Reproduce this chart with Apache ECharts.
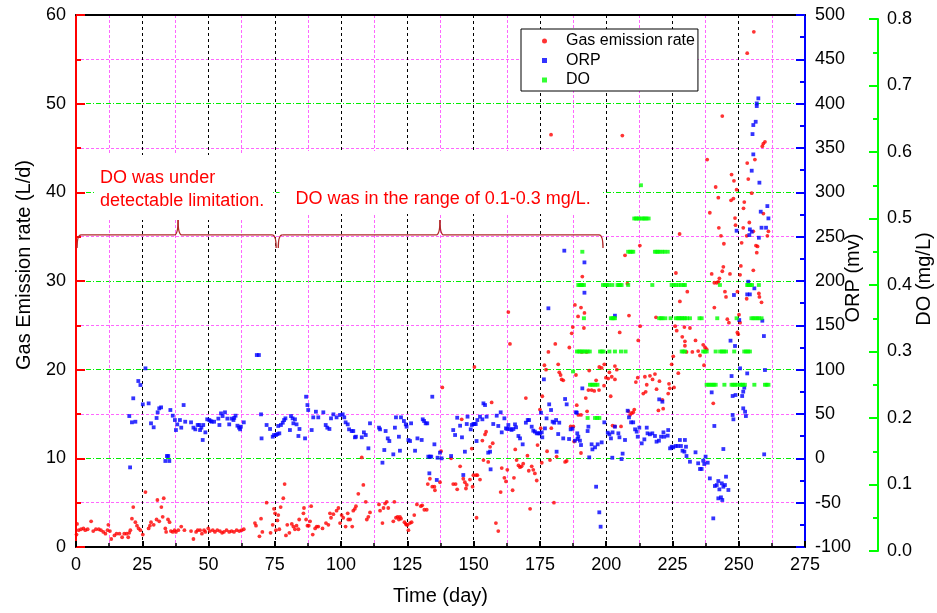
<!DOCTYPE html>
<html><head><meta charset="utf-8">
<script src="https://cdn.jsdelivr.net/npm/echarts@6/dist/echarts.min.js"></script>
<style>html,body{margin:0;padding:0;background:#fff}#c{width:937px;height:613px}</style>
</head><body><div id="c"></div>
<script>
// ---------- data ----------
const seriesNames = ['Gas emission rate', 'ORP', 'DO'];
const xTitle = 'Time (day)';
const yTitles = ['Gas Emission rate (L/d)', 'ORP (mv)', 'DO (mg/L)'];
const notes = ['DO was under\ndetectable limitation.', 'DO was in the range of 0.1-0.3 mg/L.'];

// Gas emission rate [day, L/d]
const gasRate = [
[0.2,1.4],[0.4,2.6],[1.0,1.9],[1.9,2.0],[2.8,2.1],[3.5,1.9],[4.4,2.0],[5.7,2.9],[6.5,1.8],[7.5,2.0],[8.6,2.0],[9.4,1.9],[10.3,1.7],[11.1,1.5],[11.9,1.9],[12.2,2.5],[12.8,1.8],[13.3,0.9],[14.5,1.3],[15.3,1.5],[16.4,1.5],[17.4,1.1],[18.2,1.5],[19.1,1.5],[19.7,1.1],[20.1,1.6],[20.5,1.9],[21.1,3.2],[21.6,4.5],[22.4,2.8],[23.0,2.4],[23.6,2.1],[24.3,1.9],[25.2,1.4],[26.2,6.2],[27.4,2.1],[27.9,2.4],[28.3,2.8],[29.3,2.5],[30.4,3.1],[30.7,5.3],[31.4,2.9],[32.2,4.5],[32.7,3.4],[33.1,5.5],[33.7,2.1],[34.0,1.7],[34.7,3.1],[35.3,2.8],[35.8,1.8],[36.5,1.7],[37.2,1.9],[37.7,1.7],[38.6,1.9],[39.7,2.3],[40.9,1.9],[43.4,1.8],[44.3,0.9],[45.3,1.7],[45.9,1.9],[46.8,1.9],[47.5,1.5],[48.3,1.9],[48.8,1.7],
[49.9,2.1],[50.5,1.8],[51.6,1.9],[52.4,1.7],[53.3,1.9],[54.3,1.8],[55.1,1.6],[55.8,1.7],[56.8,1.9],[57.8,1.7],[58.7,1.8],[59.6,1.7],[60.6,1.9],[61.6,1.8],[62.5,1.9],[63.3,2.0],
[67.5,2.7],[67.9,2.4],[69.2,1.2],[69.8,3.2],[70.3,1.7],[71.9,5.0],[73.4,1.6],[74.2,2.5],[74.7,4.3],[75.1,3.8],[75.4,1.9],[76.0,3.0],[76.3,3.6],[76.7,2.0],[77.2,4.5],[78.2,5.5],[78.7,7.1],[79.2,1.3],[79.7,2.5],[80.5,1.6],[81.4,2.6],[82.0,2.3],[82.6,2.0],[83.2,2.4],[83.9,2.0],[84.2,3.1],[85.8,3.8],[86.0,4.4],[86.8,3.1],[87.3,2.4],[87.8,2.4],[88.3,2.9],[88.7,4.6],[89.3,1.4],[90.2,2.1],[90.8,2.3],[91.4,2.3],[93.0,2.1],[94.3,2.7],[95.2,2.5],[95.8,3.8],[96.2,3.3],[97.1,3.7],[98.3,4.1],[99.0,4.4],[99.6,2.7],[100.2,3.6],[100.8,3.3],[101.7,2.3],[102.5,3.8],[102.7,3.1],[103.4,3.1],[104.2,2.3],[104.6,4.1],[105.2,4.3],[105.6,4.6],[106.5,6.0],[107.8,10.1],[108.4,7.0],[109.3,5.1],[109.7,3.1],[110.3,3.4],[110.9,3.9],[114.3,4.8],[114.7,4.1],[115.6,2.7],[116.0,4.4],[116.6,4.9],[117.2,5.1],[117.8,4.4],[119.7,2.9],[120.1,5.1],[120.7,3.3],[121.3,3.4],[121.8,3.1],[122.2,3.4],[122.6,3.2],[123.9,2.8],[124.4,2.6],[124.7,2.5],[125.1,2.5],[125.4,1.9],[126.0,2.7],[126.6,2.8],[127.6,3.6],[128.6,4.8],[130.1,4.6],[130.6,4.7],[131.4,4.2],[132.3,4.2],[132.7,7.1],[133.5,7.7],[134.4,6.8],[135.2,6.8],[135.4,6.4],[137.3,7.3],[137.7,10.8],[138.2,18.0],[141.5,10.0],[142.3,7.1],
[143.2,7.1],[143.8,6.5],[144.9,9.1],[145.5,14.4],[146.1,7.7],[146.7,7.3],[147.4,7.0],[147.1,6.6],[148.6,7.6],[149.3,11.1],[149.6,6.8],[149.9,8.1],[150.9,8.1],[151.4,8.1],[151.1,3.3],[150.3,20.3],[152.4,7.6],[153.3,12.0],[153.7,9.8],[154.3,12.7],[154.7,13.0],[155.5,9.6],[156.2,11.3],[156.8,16.3],[157.2,11.7],[158.4,2.7],[159.3,1.8],[160.2,6.2],[160.6,8.9],[161.6,7.8],[162.2,7.4],[162.7,8.7],[163.1,26.5],[163.7,22.9],[164.7,6.4],[165.2,7.8],[165.7,11.0],[166.2,9.8],[166.9,9.2],[167.5,9.0],[168.1,9.1],[168.7,9.4],[169.7,16.8],[170.3,10.3],[170.8,8.6],[171.3,4.3],[171.9,9.1],[172.5,8.7],[173.1,8.3],[173.8,7.5],[174.1,11.5],[175.0,15.5],[175.3,13.4],[175.7,9.5],[175.9,17.0],[176.7,20.5],[177.3,20.0],[177.7,10.8],[178.2,22.0],[178.8,9.8],[179.2,46.5],[179.3,13.4],[180.3,5.0],[180.8,22.9],[181.3,10.2],[181.9,20.6],[182.3,19.7],[182.8,19.4],[183.2,18.9],[183.8,18.8],[184.5,9.6],[185.1,9.7],[186.1,22.5],[186.6,13.6],[187.0,24.1],[187.4,24.8],[187.6,13.6],[187.9,11.9],[188.2,27.3],[189.4,26.0],[190.5,27.0],[190.5,10.6],[191.0,30.5],[191.8,26.4],[191.6,24.7],[188.6,19.4],[188.9,16.0],[189.5,14.9],[190.5,14.9],[190.8,22.0],[192.6,22.0],[192.3,16.8],[192.8,15.3],[193.3,17.7],[193.6,19.9],[194.5,17.7],[195.5,17.6],[196.2,18.8],[197.3,17.7],[197.4,20.3],[198.3,20.2],[199.2,18.2],[199.3,20.6],[199.9,19.1],[200.8,19.0],[201.2,19.7],[201.7,17.0],[202.1,19.2],[202.4,13.7],[203.3,20.4],[203.3,18.9],[203.3,13.6],[204.0,20.0],[205.1,24.2],[205.6,13.6],[206.1,46.4],[207.1,32.9],[208.0,29.7],[208.6,26.1],[208.4,15.3],[209.0,14.9],[209.6,15.1],[210.2,15.2],[210.6,15.5],[211.2,18.6],[211.9,19.1],[212.1,23.3],[212.7,34.0],[212.8,24.9],[214.0,17.3],[214.6,19.2],[214.9,17.5],[215.3,18.3],[216.5,19.3],[217.5,18.9],[218.4,19.5],[218.8,25.9],[219.0,17.8],[219.7,15.4],[220.1,18.7],[221.2,16.6],[221.5,15.6],[223.4,17.3],[223.7,18.4],[224.0,17.9],[224.7,20.6],[225.3,21.5],[225.6,18.0],[226.0,24.9],[226.3,30.9],[226.6,24.4],[227.2,19.6],[227.7,35.3],[227.8,27.7],[228.7,23.7],[229.5,24.8],[229.7,22.7],[230.3,22.0],
[229.7,23.2],[230.6,28.8],[231.6,24.7],[232.5,22.0],[233.7,23.3],[234.7,22.1],[235.4,21.6],[236.6,22.8],[236.9,20.5],[237.3,22.5],[237.9,22.3],[238.1,43.7],[239.1,37.7],[239.8,30.8],[240.4,16.2],[240.8,29.8],[240.8,27.0],[241.3,40.6],[241.7,29.8],[242.3,39.4],[242.3,29.9],[242.5,36.0],[242.7,30.3],[243.3,35.1],[243.8,48.6],[243.8,31.1],[244.2,31.6],[244.4,34.2],[244.8,28.8],[245.2,28.2],[245.7,25.7],[246.3,25.3],[246.7,30.8],[247.1,39.1],[247.3,42.0],[248.0,39.3],[248.2,41.3],[248.6,37.1],[248.8,36.3],[249.2,40.3],[249.5,28.8],[249.5,24.2],[249.8,24.0],[250.1,26.2],[250.5,30.7],[250.5,25.3],[250.8,31.7],[251.1,34.3],[251.7,36.0],[251.8,38.2],[252.1,38.9],[253.0,35.1],[253.0,28.0],[253.2,43.3],[253.2,55.7],[253.6,41.5],[254.0,36.6],[254.9,39.9],[255.5,35.6],[255.5,31.2],[255.7,58.1],[256.1,43.7],[256.5,34.0],[256.8,33.2],[257.1,33.9],[257.6,28.6],[257.8,28.2],[258.6,27.6],[258.9,45.2],[259.3,45.5],[259.3,37.6],[259.9,45.7],[260.8,35.1],[261.2,35.6]
];

// ORP [day, mV]
const orp = [
[20.4,-10.2],[20.1,47.7],[21.1,40.6],[22.4,41.3],[21.6,67.7],[23.5,87.2],[24.3,82.7],[25.2,60.9],[26.2,101.5],[27.4,62.0],[28.3,39.5],[29.3,35.0],[30.4,45.5],[30.8,51.9],[31.4,56.4],[32.1,57.5],[33.7,-3.0],[34.3,2.6],[34.8,2.6],[35.2,-3.0],[35.6,54.5],[36.5,48.1],[37.3,43.2],[37.7,31.9],[38.2,38.3],[39.2,43.2],[39.7,34.6],[40.6,60.1],[41.2,41.3],[43.4,40.6],[44.3,34.6],[45.0,32.7],[45.9,37.6],[46.5,37.6],[46.8,31.9],[47.3,34.6],[47.8,20.7],[48.0,37.6],[48.8,29.3],
[49.5,44.0],[50.3,43.2],[50.8,42.0],[51.2,41.3],[52.1,41.3],[53.7,44.8],[54.1,37.6],[54.7,50.7],[55.3,47.7],[56.2,51.9],[57.1,44.8],[57.8,38.3],[58.7,44.8],[59.4,43.2],[59.7,45.6],[60.2,48.1],[60.9,36.8],[61.5,34.6],[61.9,32.7],[62.2,35.7],[63.3,40.6],
[68.2,116.5],[69.0,116.5],[69.8,49.6],[70.0,22.5],[71.9,37.6],[73.2,33.1],[74.2,24.4],[74.7,26.3],[75.4,26.3],[76.0,27.4],[76.7,28.2],[76.3,36.5],[77.3,37.6],[78.0,40.2],[78.5,43.2],[79.0,45.1],[80.7,31.9],[81.1,47.7],[81.7,45.1],[82.0,39.5],[82.6,44.0],[83.2,38.3],[83.9,25.2],[84.3,33.1],[86.4,22.5],[86.8,69.5],[87.3,60.1],[87.6,54.5],[88.9,31.9],[89.5,46.2],[90.5,52.6],[91.4,46.2],[93.3,51.9],[94.2,37.6],[94.8,34.6],[95.6,33.1],
[96.2,45.1],[97.1,49.6],[98.3,46.2],[99.6,48.9],[100.6,49.6],[101.2,46.2],[101.7,40.6],[102.5,38.3],[103.0,32.7],[104.0,30.8],[104.6,30.8],[105.2,23.7],[105.6,24.4],[107.8,23.7],[108.6,29.3],[109.3,26.3],[110.3,11.3],[110.9,39.5],[114.3,34.6],[114.7,32.7],[115.6,-4.9],[116.3,9.4],[116.8,30.8],[117.6,22.5],[118.2,19.5],[119.7,4.5],[120.3,34.6],[120.7,46.2],[121.8,24.4],[122.2,8.6],[122.6,46.2],[123.7,42.1],[124.4,38.3],[124.7,35.7],[125.4,20.7],[126.0,19.5],[126.4,39.5],[127.9,8.6],[128.8,22.5],[130.4,20.7],[130.8,44.0],[131.3,42.1],[131.9,39.5],[132.5,39.5],[132.9,1.9],[133.5,1.9],[134.0,1.9],[133.3,-16.9],[134.4,69.5],[135.2,15.8],[136.1,-24.4],[136.4,0.7],[137.3,6.4],[137.9,0.0],[141.5,2.6],[142.3,31.9],[143.0,26.3],
[143.8,45.8],[144.9,36.8],[145.6,23.7],[146.1,-18.8],[146.7,7.5],[147.4,38.7],[147.7,47.0],[148.9,32.7],[149.3,37.6],[149.9,38.7],[150.3,38.7],[150.8,38.7],[151.1,19.5],[151.4,43.2],[152.4,47.0],[153.3,44.0],[153.7,62.0],[154.3,60.1],[154.9,47.0],[155.5,6.4],[156.2,7.5],[156.4,-12.4],[157.4,38.7],[158.7,48.1],[159.3,36.5],[160.2,51.9],[160.6,29.3],[161.6,45.1],[162.2,33.8],[162.7,33.1],[163.1,37.6],[163.7,33.1],[164.3,32.0],[165.0,33.1],[165.6,38.3],[166.0,35.0],[166.9,25.2],[167.5,22.5],[168.5,15.8],[169.7,40.2],[170.4,43.2],[170.9,43.2],[171.9,35.7],[172.5,31.2],[173.1,30.1],[173.8,28.2],[174.4,28.2],[175.0,28.2],[175.7,29.3],[175.4,51.5],[175.9,23.7],[176.5,89.1],[176.9,33.8],[177.5,45.1],[178.2,169.2],[178.5,60.9],[179.2,54.5],[179.8,41.3],[180.4,40.2],[181.1,43.2],[181.3,7.5],[181.9,27.4],[182.3,40.2],[183.8,22.5],[184.2,234.2],[184.5,66.9],[185.1,60.9],[186.0,21.8],[186.6,32.7],[187.3,33.5],[188.2,19.9],[188.9,51.5],[189.2,21.8],[189.5,24.4],
[191.8,221.0],[191.8,186.8],[203.3,160.9],[188.6,51.9],[191.0,78.9],[193.3,35.7],[193.0,30.8],[190.1,19.9],[190.5,15.0],[189.1,28.2],[193.6,1.1],[194.5,15.8],[194.8,10.1],[195.8,12.4],[196.8,15.8],[198.3,18.0],[199.3,40.6],[196.2,-32.0],[197.4,-60.9],[197.9,-77.1],[200.6,28.9],[201.2,27.1],[201.8,22.5],[202.4,29.3],[203.3,35.7],[204.6,28.2],[205.0,23.7],[206.2,5.3],[205.8,-0.8],[207.1,20.7],[202.3,0.7],[208.1,53.7],[208.6,46.2],[209.4,40.6],[210.2,40.6],[210.9,32.7],[211.5,30.1],[211.9,24.4],[212.5,34.6],[213.4,16.9],[214.4,21.4],[215.3,34.6],[215.6,28.2],[216.5,27.1],[217.4,28.2],[218.4,25.2],[219.0,18.8],[219.9,19.9],[220.7,24.4],[221.6,29.3],[220.0,66.5],[221.2,63.9],[221.9,24.4],[223.4,31.9],[223.2,25.6],[224.1,11.3],[224.7,13.1],[225.3,12.4],[226.2,13.9],[227.0,13.9],[227.8,20.7],[228.2,13.9],[228.8,8.6],[229.5,7.5],[230.3,2.6],
[229.7,20.7],[230.1,13.1],[231.6,-3.8],[233.7,6.8],[234.7,-5.6],[235.4,-12.0],[236.0,-12.0],[236.6,-2.6],[237.0,-6.4],[237.5,1.9],[238.3,-4.9],[239.1,-22.6],[239.8,74.4],[240.4,-67.7],[240.8,36.5],[241.0,-31.2],[241.7,-30.1],[242.3,-25.6],[242.3,-45.1],[242.7,-35.0],[243.3,-44.0],[243.6,-28.2],[243.8,-47.0],[244.2,-32.0],[244.2,10.5],[244.8,-30.1],[245.2,-20.7],[246.1,-35.7],[246.9,132.7],[247.3,92.8],[247.7,70.3],[247.7,48.9],[248.0,44.0],[248.2,184.2],[248.6,126.7],[248.8,71.4],[249.2,256.7],[250.2,156.0],[250.5,101.5],[251.3,70.3],[251.7,75.2],[251.7,56.4],[252.1,79.7],[252.4,52.6],[252.7,47.7],[253.2,95.8],[253.2,184.9],[253.6,199.2],[254.0,251.8],[254.2,184.9],[254.2,258.2],[254.9,255.6],[254.9,324.4],[255.2,365.7],[255.5,342.8],[255.5,375.9],[255.9,191.7],[256.4,379.6],[256.8,397.3],[256.8,400.3],[257.4,406.0],[257.6,248.8],[257.8,310.9],[258.3,278.2],[258.6,260.1],[258.9,155.2],[259.5,137.9],[259.6,4.5],[259.9,99.6],[260.3,260.1],[260.8,284.5],[261.2,270.6]
];

// DO [day, mg/L]
const dissolvedOxygen = [
[213.1,0.55],
[210.6,0.50],[211.2,0.50],[211.8,0.50],[212.4,0.50],[213.4,0.50],[214.0,0.50],[214.6,0.50],[215.2,0.50],[216.0,0.50],
[191.0,0.45],[208.3,0.45],[209.0,0.45],[209.6,0.45],[210.2,0.45],[218.4,0.45],[219.0,0.45],[219.6,0.45],[220.2,0.45],[221.2,0.45],[222.0,0.45],[223.2,0.45],
[189.5,0.40],[190.0,0.40],[190.5,0.40],[191.0,0.40],[191.6,0.40],[198.8,0.40],[199.5,0.40],[200.2,0.40],[201.0,0.40],[202.3,0.40],[204.3,0.40],[204.8,0.40],[205.3,0.40],[205.8,0.40],[208.3,0.40],[217.4,0.40],[224.7,0.40],[225.5,0.40],[226.3,0.40],[227.3,0.40],[228.2,0.40],[229.2,0.40],[229.7,0.40],[242.9,0.40],[253.2,0.40],[253.6,0.40],[254.0,0.40],[254.4,0.40],[255.0,0.40],[257.6,0.40],
[191.6,0.35],[201.8,0.35],[202.3,0.35],[202.8,0.35],[203.3,0.35],[220.0,0.35],[220.7,0.35],[221.2,0.35],[222.3,0.35],[224.3,0.35],[226.3,0.35],[227.0,0.35],[227.5,0.35],[228.0,0.35],[228.6,0.35],[229.2,0.35],[229.7,0.35],[230.5,0.35],[231.6,0.35],[235.2,0.35],[236.0,0.35],[241.9,0.35],[249.2,0.35],[254.8,0.35],[255.5,0.35],[256.2,0.35],[257.0,0.35],[257.6,0.35],[258.6,0.35],
[189.0,0.30],[189.6,0.30],[190.2,0.30],[190.8,0.30],[191.5,0.30],[192.2,0.30],[193.0,0.30],[193.8,0.30],[197.7,0.30],[198.3,0.30],[199.0,0.30],[201.2,0.30],[203.3,0.30],[205.6,0.30],[207.3,0.30],[228.5,0.30],[229.1,0.30],[229.7,0.30],[236.6,0.30],[237.2,0.30],[237.9,0.30],[241.3,0.30],[243.0,0.30],[243.7,0.30],[244.4,0.30],[245.2,0.30],[248.3,0.30],[252.1,0.30],[252.8,0.30],[253.5,0.30],[254.2,0.30],
[187.5,0.27],
[193.9,0.25],[194.5,0.25],[195.2,0.25],[195.9,0.25],[196.7,0.25],[237.9,0.25],[238.6,0.25],[239.3,0.25],[240.0,0.25],[240.6,0.25],[241.3,0.25],[244.6,0.25],[247.3,0.25],[247.9,0.25],[248.6,0.25],[249.3,0.25],[250.5,0.25],[251.0,0.25],[251.6,0.25],[252.3,0.25],[255.9,0.25],[259.9,0.25],[260.5,0.25],[261.2,0.25],
[193.0,0.20],[195.8,0.20],[196.6,0.20],[197.4,0.20]
];

// annotation braces: [startDay, endDay, tipDay] at level (L/d)
const braces = [[0.4, 75.5, 38.5], [76.3, 198.8, 137.3]];
const braceLevel = 35.2;

// ---------- chart ----------
const FONT = 'Arial, "Liberation Sans", Helvetica, sans-serif';
const chart = echarts.init(document.getElementById('c'), null, {renderer: 'canvas'});
const lbl = {color: '#000', fontSize: 18, fontFamily: FONT};
const option = {
  animation: false,
  backgroundColor: '#fff',
  grid: [
    {left: 76, right: 132, top: 15, bottom: 66, outerBoundsMode: 'none', containLabel: false},
    {left: 76, right: 132, top: 19, bottom: 62, outerBoundsMode: 'none', containLabel: false}
  ],
  legend: {
    orient: 'vertical', left: 521, top: 29,
    backgroundColor: '#fff', borderColor: '#000', borderWidth: 1, borderRadius: 0,
    padding: [4, 3, 3, 21], itemGap: 3.5, itemWidth: 5, itemHeight: 5,
    textStyle: {fontSize: 16, fontFamily: FONT, color: '#000', lineHeight: 16, padding: [0, 0, 0, 14]},
    data: seriesNames, selectedMode: false
  },
  xAxis: [
    {gridIndex: 0, type: 'value', min: 0, max: 275, interval: 25, position: 'bottom',
     axisLine: {show: true, onZero: false, lineStyle: {color: '#000', width: 2}},
     axisTick: {show: true, inside: true, length: 6, lineStyle: {color: '#000', width: 2}},
     minorTick: {show: true, splitNumber: 2, length: 4, lineStyle: {color: '#000', width: 1.5}},
     axisLabel: Object.assign({margin: 9}, lbl),
     splitLine: {show: true, showMinLine: false, showMaxLine: false, lineStyle: {color: '#000', type: [3, 3], width: 1}},
     minorSplitLine: {show: true, lineStyle: {color: '#ff66ff', type: [3, 2], width: 1}},
     name: xTitle, nameLocation: 'middle', nameGap: 39,
     nameTextStyle: {fontSize: 20, color: '#000', fontFamily: FONT}},
    {gridIndex: 0, type: 'value', min: 0, max: 275, position: 'top',
     axisLine: {show: true, onZero: false, lineStyle: {color: '#000', width: 2}},
     axisTick: {show: false}, axisLabel: {show: false}, splitLine: {show: false}},
    {gridIndex: 1, type: 'value', min: 0, max: 275, show: false}
  ],
  yAxis: [
    {gridIndex: 0, type: 'value', min: 0, max: 60, interval: 10, position: 'left',
     axisLine: {show: true, onZero: false, lineStyle: {color: '#ff0000', width: 2}},
     axisTick: {show: true, inside: true, length: 9, lineStyle: {color: '#ff0000', width: 2}},
     minorTick: {show: true, splitNumber: 2, length: 5, lineStyle: {color: '#ff0000', width: 2}},
     axisLabel: Object.assign({margin: 10}, lbl),
     splitLine: {show: true, showMinLine: false, showMaxLine: false, lineStyle: {color: '#00ee00', type: [5, 2, 1, 2], width: 1}},
     minorSplitLine: {show: true, lineStyle: {color: '#ff66ff', type: [3, 2], width: 1}}},
    {gridIndex: 0, type: 'value', min: -100, max: 500, interval: 50, position: 'right',
     axisLine: {show: true, onZero: false, lineStyle: {color: '#0000ff', width: 2}},
     axisTick: {show: true, inside: true, length: 9, lineStyle: {color: '#0000ff', width: 2}},
     minorTick: {show: true, splitNumber: 2, length: 5, lineStyle: {color: '#0000ff', width: 2}},
     axisLabel: Object.assign({margin: 10}, lbl),
     splitLine: {show: false}},
    {gridIndex: 1, type: 'value', min: 0, max: 0.8, interval: 0.1, position: 'right', offset: 73,
     axisLine: {show: true, onZero: false, lineStyle: {color: '#00ff00', width: 2}},
     axisTick: {show: true, inside: true, length: 9, lineStyle: {color: '#00ff00', width: 2}},
     minorTick: {show: true, splitNumber: 2, length: 5, lineStyle: {color: '#00ff00', width: 2}},
     axisLabel: Object.assign({margin: 9, formatter: v => v.toFixed(1)}, lbl),
     splitLine: {show: false}}
  ],
  series: [
    {name: seriesNames[0], type: 'scatter', xAxisIndex: 0, yAxisIndex: 0, data: gasRate,
     symbol: 'circle', symbolSize: 3.8, itemStyle: {color: '#ff0000'}},
    {name: seriesNames[1], type: 'scatter', xAxisIndex: 0, yAxisIndex: 1, data: orp,
     symbol: 'rect', symbolSize: 3.8, itemStyle: {color: '#0000ff'}},
    {name: seriesNames[2], type: 'scatter', xAxisIndex: 2, yAxisIndex: 2, data: dissolvedOxygen,
     symbol: 'rect', symbolSize: [4, 3.8], itemStyle: {color: '#00ff00'}}
  ]
};
chart.setOption(option);

// annotations placed through the axes
const X = d => chart.convertToPixel({xAxisIndex: 0}, d);
const Y = v => chart.convertToPixel({yAxisIndex: 0}, v);
const braceStyle = {stroke: '#b02828', lineWidth: 1.3, fill: null};
const graphics = [];
function addCurve(x1, y1, cx, cy, x2, y2) {
  graphics.push({type: 'bezierCurve', z: 50, shape: {x1: x1, y1: y1, cpx1: cx, cpy1: cy, x2: x2, y2: y2}, style: braceStyle});
}
function addLine(x1, y1, x2, y2) {
  graphics.push({type: 'line', z: 50, shape: {x1: x1, y1: y1, x2: x2, y2: y2}, style: braceStyle});
}
braces.forEach(b => {
  const x0 = X(b[0]), x1 = X(b[1]), xm = X(b[2]), yb = Y(braceLevel);
  const ye = yb + 13, yt = yb - 15, r = 4;
  addCurve(x0, ye, x0, yb, x0 + r, yb);
  addLine(x0 + r, yb, xm - r, yb);
  addCurve(xm - r, yb, xm, yb, xm, yt);
  addCurve(xm, yt, xm, yb, xm + r, yb);
  addLine(xm + r, yb, x1 - r, yb);
  addCurve(x1 - r, yb, x1, yb, x1, ye);
});
graphics.push({type: 'text', z: 60, x: X(7.2), y: 155,
  style: {text: notes[0], fill: '#ff0000', font: '18px ' + FONT, lineHeight: 23, align: 'left', verticalAlign: 'top',
          backgroundColor: '#fff', padding: [12, 9, 7, 5]}});
graphics.push({type: 'text', z: 60, x: X(76.8), y: 151,
  style: {text: notes[1], fill: '#ff0000', font: '18px ' + FONT, lineHeight: 23, align: 'left', verticalAlign: 'top',
          backgroundColor: '#fff', padding: [37, 12, 3, 16]}});
// axis titles
graphics.push({type: 'text', z: 60, x: 24, y: 265, rotation: Math.PI / 2,
  style: {text: yTitles[0], fill: '#000', font: '20px ' + FONT, align: 'center', verticalAlign: 'middle'}});
graphics.push({type: 'text', z: 60, x: 853, y: 278, rotation: Math.PI / 2,
  style: {text: yTitles[1], fill: '#000', font: '20px ' + FONT, align: 'center', verticalAlign: 'middle'}});
graphics.push({type: 'text', z: 60, x: 924, y: 279, rotation: Math.PI / 2,
  style: {text: yTitles[2], fill: '#000', font: '20px ' + FONT, align: 'center', verticalAlign: 'middle'}});
chart.setOption({graphic: graphics});
</script></body></html>
